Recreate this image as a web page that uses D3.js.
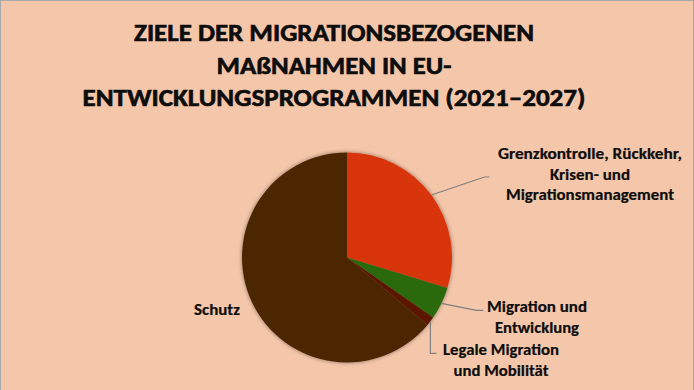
<!DOCTYPE html>
<html>
<head>
<meta charset="utf-8">
<script src="https://cdn.jsdelivr.net/npm/d3@7"></script>
<style>
  html, body { margin: 0; padding: 0; background: #f5c7aa; }
  svg { display: block; }
</style>
</head>
<body>
<div id="chart"></div>
<script>
// Chart data
const categories = [
  'Grenzkontrolle, Rückkehr, Krisen- und Migrationsmanagement',
  'Migration und Entwicklung',
  'Legale Migration und Mobilität',
  'Schutz'
]
const shares = [29.7, 5.0, 1.4, 63.9]
const colors = ['#d9360a', '#2a6a11', '#5c1405', '#4b2800']
const titleLines = [
  'ZIELE DER MIGRATIONSBEZOGENEN',
  'MAßNAHMEN IN EU-',
  'ENTWICKLUNGSPROGRAMMEN (2021–2027)'
]
const labelLines = [
  ['Grenzkontrolle, Rückkehr,', 'Krisen- und', 'Migrationsmanagement'],
  ['Migration und', 'Entwicklung'],
  ['Legale Migration', 'und Mobilität'],
  ['Schutz']
]

const width = 694
const height = 390
const font = 'Carlito, Calibri, "Open Sans", sans-serif'

const svg = d3
  .select('#chart')
  .append('svg')
  .attr('width', width)
  .attr('height', height)

// Soft shadow round the pie
const defs = svg.append('defs')
defs
  .append('filter')
  .attr('id', 'shadow')
  .attr('x', '-20%')
  .attr('y', '-20%')
  .attr('width', '140%')
  .attr('height', '140%')
  .append('feDropShadow')
  .attr('dx', 0)
  .attr('dy', 0)
  .attr('stdDeviation', 2)
  .attr('flood-color', '#000')
  .attr('flood-opacity', 0.45)

// Background and frame
svg
  .append('rect')
  .attr('x', 0.5)
  .attr('y', 0.5)
  .attr('width', 693)
  .attr('height', 420)
  .attr('fill', '#f5c7aa')
  .attr('stroke', '#a8a8a8')
  .attr('stroke-width', 1)

// Title
const titleWidths = [400, 235, 503]
const titleBaselines = [41, 74, 106]
svg
  .append('g')
  .selectAll('text')
  .data(titleLines)
  .join('text')
  .attr('x', 334)
  .attr('y', (d, i) => titleBaselines[i])
  .attr('text-anchor', 'middle')
  .attr('font-family', font)
  .attr('font-weight', 'bold')
  .attr('font-size', 25)
  .attr('fill', '#0d0d0d')
  .attr('stroke', '#0d0d0d')
  .attr('stroke-width', 0.6)
  .attr('textLength', (d, i) => titleWidths[i])
  .attr('lengthAdjust', 'spacingAndGlyphs')
  .text((d) => d)

// Pie
const cx = 347
const cy = 257.5
const radius = 105

const pie = d3.pie().sort(null).value((d) => d)
const arcs = pie(shares)
const arc = d3.arc().innerRadius(0).outerRadius(radius)

const g = svg.append('g').attr('transform', `translate(${cx},${cy})`)

g.append('g')
  .attr('filter', 'url(#shadow)')
  .selectAll('path')
  .data(arcs)
  .join('path')
  .attr('d', arc)
  .attr('fill', (d, i) => colors[i])

// Leader lines: from the slice edge to the label
function edgePoint(d) {
  const a = (d.startAngle + d.endAngle) / 2
  return [radius * Math.sin(a), -radius * Math.cos(a)]
}

const leaders = [
  (p) => [p, [p[0] + 53, p[1] - 18], [p[0] + 58, p[1] - 18]],
  (p) => [p, [p[0] + 35, p[1] + 7], [p[0] + 42, p[1] + 7]],
  (p) => [p, [p[0], p[1] + 32], [p[0] + 6, p[1] + 32]],
  null
]

const line = d3.line()
arcs.forEach((d, i) => {
  if (!leaders[i]) return
  g.append('path')
    .attr('d', line(leaders[i](edgePoint(d))))
    .attr('fill', 'none')
    .attr('stroke', '#7f7f7f')
    .attr('stroke-width', 1.2)
})

// Labels
const labelPos = [
  { x: 590, y: 159, widths: [184, 80, 168] },
  { x: 537, y: 312, widths: [100, 84] },
  { x: 501, y: 355, widths: [116, 95] },
  { x: 217, y: 315, widths: [46] }
]
const lineGap = 20.5

labelLines.forEach((lines, i) => {
  const pos = labelPos[i]
  svg
    .append('g')
    .selectAll('text')
    .data(lines)
    .join('text')
    .attr('x', pos.x)
    .attr('y', (d, j) => pos.y + j * lineGap)
    .attr('text-anchor', 'middle')
    .attr('font-family', font)
    .attr('font-weight', 'bold')
    .attr('font-size', 15)
    .attr('fill', '#0d0d0d')
    .attr('stroke', '#0d0d0d')
    .attr('stroke-width', 0.2)
    .attr('textLength', (d, j) => pos.widths[j])
    .attr('lengthAdjust', 'spacingAndGlyphs')
    .text((d) => d)
})
</script>
</body>
</html>
